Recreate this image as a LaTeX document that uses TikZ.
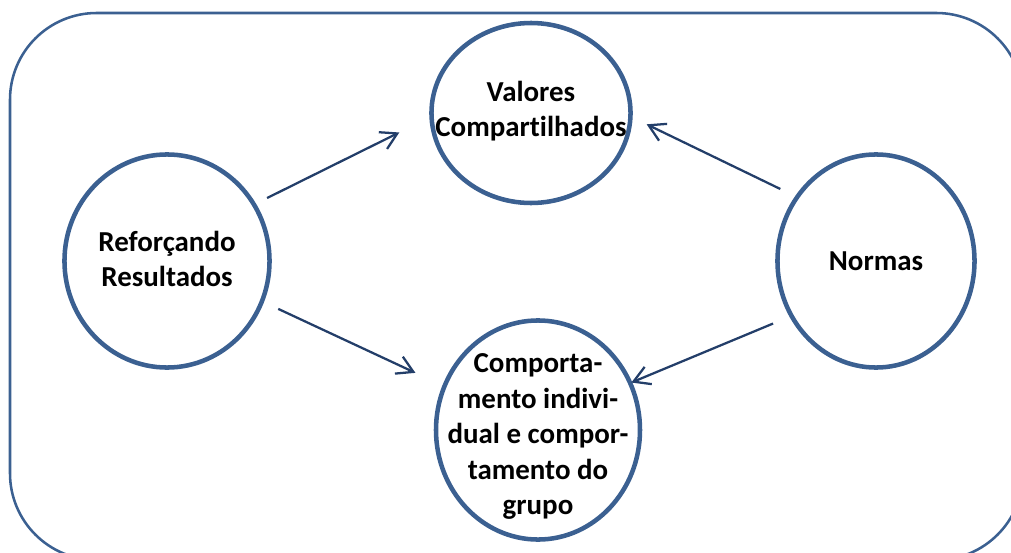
\documentclass[tikz,border=0pt]{standalone}
\usepackage{fontspec}
\setmainfont{Carlito}[Ligatures={NoCommon}]
\usepackage{tikz}
\usetikzlibrary{shapes.geometric}
\usetikzlibrary{arrows.meta}
\definecolor{ringblue}{RGB}{59,96,145}
\definecolor{arrowblue}{RGB}{35,62,105}

\begin{document}
\begin{tikzpicture}[x=0.75pt, y=-0.75pt,
  bubble/.style={ellipse, draw=ringblue, line width=3.4pt, inner sep=0pt, outer sep=0pt},
  txt/.style={align=center, font=\bfseries\fontsize{21.7}{26.6}\selectfont},
  arr/.style={draw=arrowblue, line width=1.7pt, -{Straight Barb[length=12pt, width=14pt]}}]

\useasboundingbox (0,0) rectangle (1011,553);
\clip (0,0) rectangle (1011,553);

% frame
\draw [ringblue, line width=1.9pt, rounded corners=65pt] (10,13) rectangle (1023,560);

% bubbles
\node [bubble, minimum width=149.3pt, minimum height=135pt,
  label={[txt, yshift=1.5pt]center:{Valores\\Compartilhados}}] (val) at (531,113) {};
\node [bubble, minimum width=153.8pt, minimum height=159.8pt,
  label={[txt, yshift=1.5pt]center:{Reforçando\\Resultados}}] (ref) at (167,261) {};
\node [bubble, minimum width=147.8pt, minimum height=159.8pt,
  label={[txt]center:{Normas}}] (norm) at (876,261) {};
\node [bubble, minimum width=153pt, minimum height=164.3pt,
  label={[txt, yshift=-5pt]center:{Comporta-\\mento indivi-\\dual e compor-\\tamento do\\grupo}}] (comp) at (538,430) {};

% arrows
\draw [arr, shorten <=11pt, shorten >=27pt] (ref.33) -- (val.182);
\draw [arr, shorten <=13.5pt, shorten >=24pt] (ref.-23) -- (comp.155);
\draw [arr, shorten <=14pt, shorten >=13.5pt] (norm.141) -- (val.-2);
\draw [arr, shorten <=15pt, shorten >=1pt] (norm.213) -- (comp.27);

\end{tikzpicture}
\end{document}
